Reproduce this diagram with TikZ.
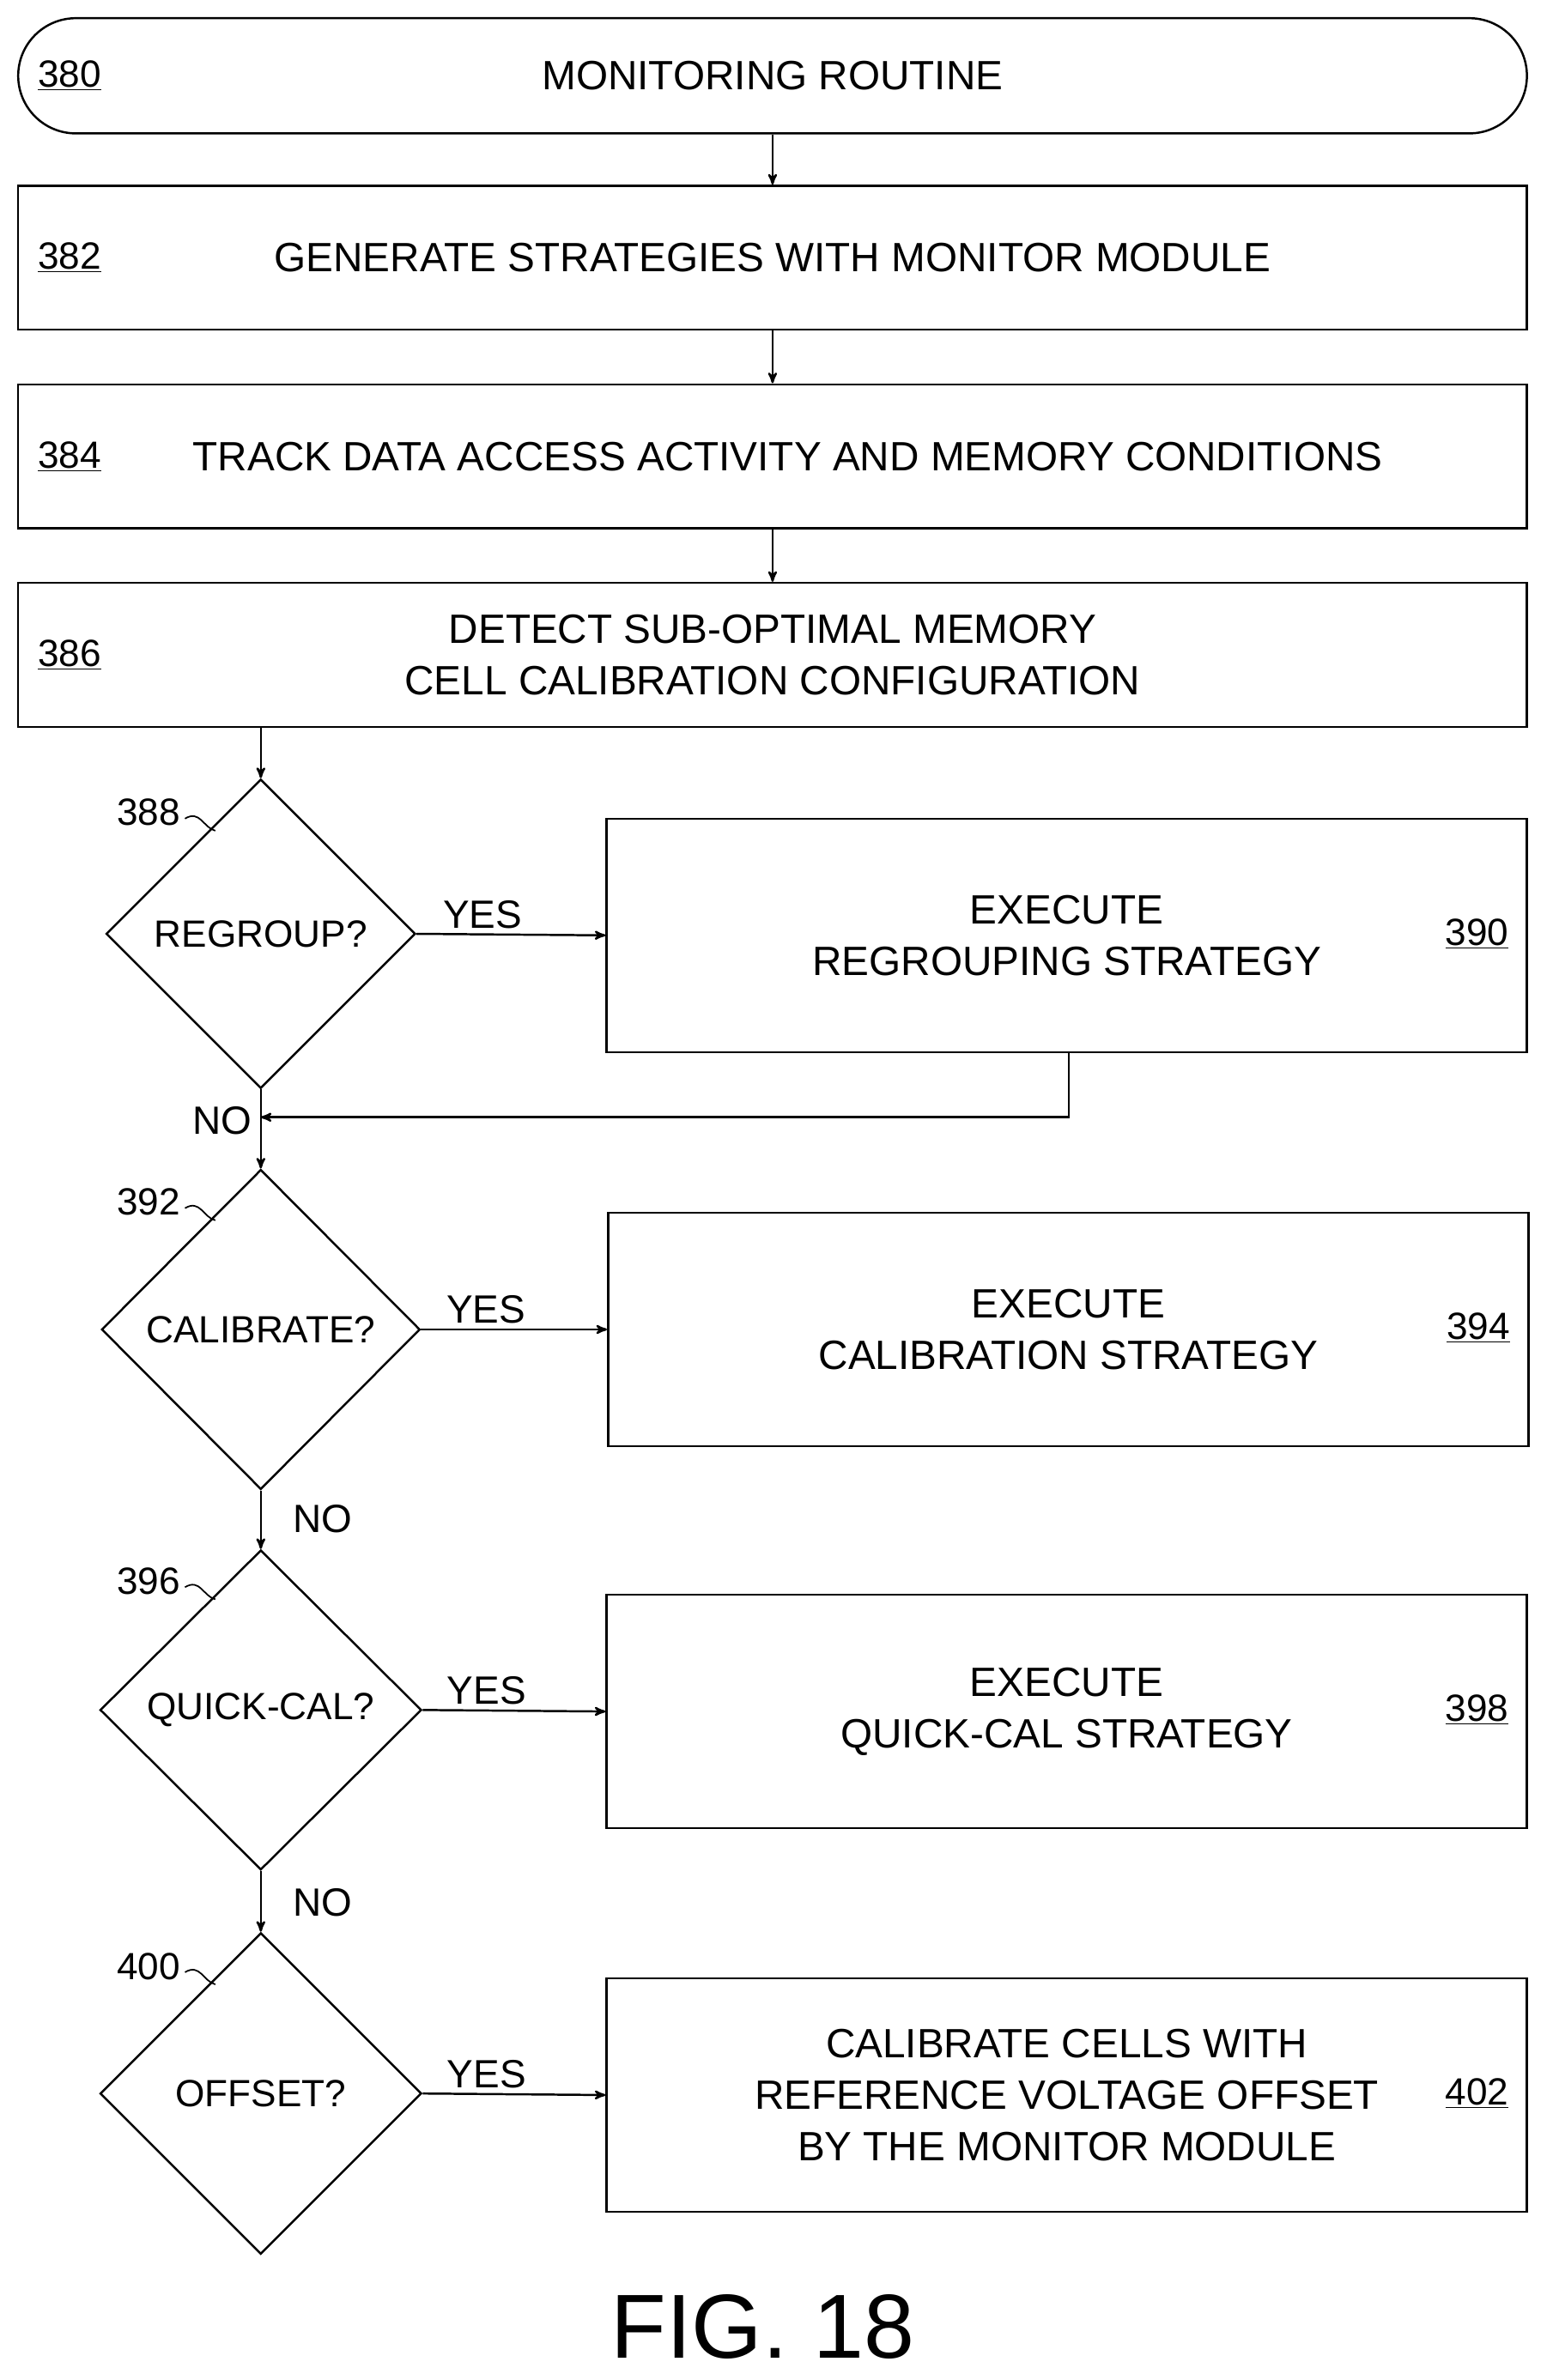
\documentclass[tikz,border=0pt]{standalone}
\usepackage{fontspec}
\setmainfont{Liberation Sans}
\usetikzlibrary{arrows,shapes.geometric}

\begin{document}
\begin{tikzpicture}[x=1pt,y=-1pt,->,>=stealth',line width=1.4pt,
  box/.style={draw,rectangle,minimum width=995,minimum height=95,inner sep=0,align=center,font=\fontsize{27}{34}\selectfont},
  side box/.style={draw,rectangle,minimum width=607,minimum height=154,inner sep=0,align=center,font=\fontsize{27}{34}\selectfont},
  decision/.style={draw,diamond,inner sep=0,font=\fontsize{25}{28}\selectfont},
  ref/.style={font=\fontsize{25}{28}\selectfont},
  lbl/.style={font=\fontsize{26}{28}\selectfont}]
  \useasboundingbox (0,0) rectangle (1024,1570);

  % main column
  \node[box,rounded corners=38,minimum height=76] (start) at (509.5,50) {MONITORING ROUTINE};
  \node[box] (gen) at (509.5,170) {GENERATE STRATEGIES WITH MONITOR MODULE};
  \node[box] (track) at (509.5,301) {\hspace*{20pt}TRACK DATA ACCESS ACTIVITY AND MEMORY CONDITIONS};
  \node[box] (detect) at (509.5,432) {DETECT SUB-OPTIMAL MEMORY\\CELL CALIBRATION CONFIGURATION};
  \node[ref] at (46,50) {\underline{380}};
  \node[ref] at (46,170) {\underline{382}};
  \node[ref] at (46,301) {\underline{384}};
  \node[ref] at (46,432) {\underline{386}};

  % decisions
  \node[decision,minimum width=204,minimum height=204] (regroup) at (172,616) {REGROUP?};
  \node[decision,minimum width=210,minimum height=211] (calib) at (172,877) {CALIBRATE?};
  \node[decision,minimum width=212,minimum height=211] (quick) at (172,1128) {QUICK-CAL?};
  \node[decision,minimum width=212,minimum height=212] (offset) at (172,1381) {OFFSET?};

  % strategy boxes
  \node[side box] (regexec) at (703.5,617) {EXECUTE\\REGROUPING STRATEGY};
  \node[side box] (calexec) at (704.5,877) {EXECUTE\\CALIBRATION STRATEGY};
  \node[side box] (quickexec) at (703.5,1129) {EXECUTE\\QUICK-CAL STRATEGY};
  \node[side box] (offexec) at (703.5,1382) {CALIBRATE CELLS WITH\\REFERENCE VOLTAGE OFFSET\\BY THE MONITOR MODULE};
  \node[ref] at (974,616) {\underline{390}};
  \node[ref] at (975,876) {\underline{394}};
  \node[ref] at (974,1128) {\underline{398}};
  \node[ref] at (974,1381) {\underline{402}};

  % diamond numbers
  \node[ref] (n388) at (98,536) {388};
  \node[ref] (n392) at (98,793) {392};
  \node[ref] (n396) at (98,1043) {396};
  \node[ref] (n400) at (98,1297) {400};
  \foreach \n/\y in {388/536,392/793,396/1043,400/1297}
    \draw[-,line width=1pt] (122,\y+4) .. controls (132,\y-2) and (134,\y+10) .. (142,\y+12);

  % connectors
  \draw (start) -- (gen);
  \draw (gen) -- (track);
  \draw (track) -- (detect);
  \draw (detect.south -| regroup.north) -- (regroup.north);
  \coordinate (merge) at (172,737);
  \draw (regroup.south) -- (calib.north);
  \draw (regexec.south -| 705,0) |- (merge);
  \draw (calib.south) -- (quick.north);
  \draw (quick.south) -- (offset.north);
  \draw (regroup.east) -- node[above,lbl,pos=0.35] {YES} (regexec.west);
  \draw (calib.east) -- node[above,lbl,pos=0.35] {YES} (calexec.west);
  \draw (quick.east) -- node[above,lbl,pos=0.35] {YES} (quickexec.west);
  \draw (offset.east) -- node[above,lbl,pos=0.35] {YES} (offexec.west);

  \node[lbl,anchor=east] at (170,739) {NO};
  \node[lbl] at (213,1002) {NO};
  \node[lbl] at (213,1255) {NO};

  \node[font=\fontsize{60}{62}\selectfont] at (503,1535) {FIG. 18};
\end{tikzpicture}
\end{document}
